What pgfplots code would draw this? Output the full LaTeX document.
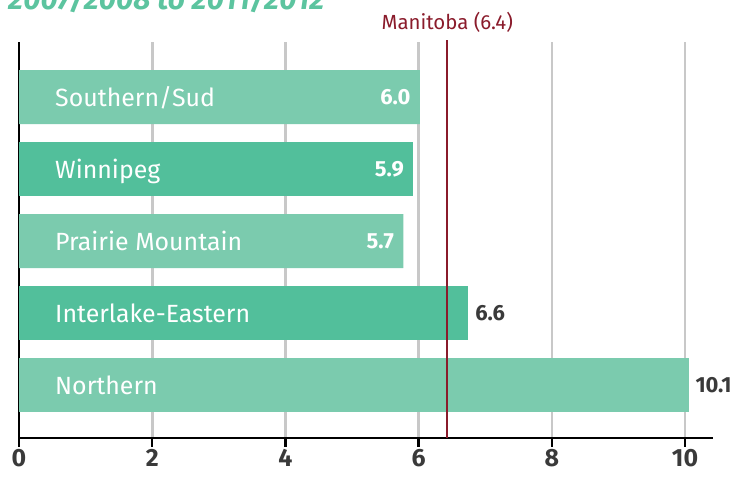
\documentclass[border=0pt]{standalone}
\usepackage{fontspec}
\setmainfont{Fira Sans}
\usepackage{pgfplots}
\pgfplotsset{compat=1.18}
\definecolor{barlight}{HTML}{7BCBAE}
\definecolor{bardark}{HTML}{52BF9B}
\definecolor{titlegreen}{HTML}{5CC49F}
\definecolor{mbred}{HTML}{8A1B2B}
\definecolor{gridgray}{HTML}{C8C8C8}
\definecolor{ticktext}{HTML}{3A3A3A}
\tikzset{catlab/.style={anchor=base west, text=white, inner sep=0,
  font=\fontsize{25}{25}\selectfont, xshift=36bp, yshift=-9bp}}
\begin{document}
\begin{tikzpicture}[x=1bp,y=1bp]
\useasboundingbox (0,0) rectangle (733,477);
\node[anchor=base west, inner sep=0, text=titlegreen,
  font=\fontsize{30}{30}\selectfont\bfseries\itshape] at (8,467) {2007/2008 to 2011/2012};
\begin{axis}[
  at={(19bp,39bp)}, anchor=south west,
  scale only axis, width=694bp, height=396bp,
  xmin=0, xmax=10.42, ymin=-0.736, ymax=4.764,
  xbar, bar shift=0pt, bar width=0.75,
  axis x line=bottom, axis y line=left,
  axis line style={-, black, line width=2.4bp},
  xtick={0,2,4,6,8,10}, ytick=\empty,
  xmajorgrids, major grid style={gridgray, line width=2.6bp},
  tick align=outside, major tick length=9bp,
  x tick style={black, line width=2.4bp},
  xticklabel style={font=\fontsize{25}{25}\selectfont\bfseries, text=ticktext, yshift=1bp},
  /pgf/number format/assume math mode=true,
  clip=false,
  nodes near coords, point meta=explicit symbolic,
  nodes near coords style={font=\fontsize{22}{22}\selectfont\bfseries},
]
% bars with the value inside (white)
\addplot[fill=barlight, draw=none,
  every node near coord/.append style={anchor=east, text=white, xshift=-6bp}]
  coordinates {(6.02,4) [6.0] (5.77,2) [5.7]};
\addplot[fill=bardark, draw=none,
  every node near coord/.append style={anchor=east, text=white, xshift=-6bp}]
  coordinates {(5.92,3) [5.9]};
% bars with the value outside
\addplot[fill=bardark, draw=none,
  every node near coord/.append style={anchor=west, text=ticktext, xshift=4bp}]
  coordinates {(6.74,1) [6.6]};
\addplot[fill=barlight, draw=none,
  every node near coord/.append style={anchor=west, text=ticktext, xshift=3bp}]
  coordinates {(10.06,0) [10.1]};
% Manitoba average
\draw[mbred, line width=2.4bp] (axis cs:6.43,4.79) -- (axis cs:6.43,-0.736) -- ++(0,-12bp);
\node[text=mbred, anchor=base, font=\fontsize{20.5}{20.5}\selectfont] at (axis cs:6.43,4.79) [yshift=11bp] {Manitoba (6.4)};
% category names
\node[catlab] at (axis cs:0,4) {Southern/Sud};
\node[catlab] at (axis cs:0,3) {Winnipeg};
\node[catlab] at (axis cs:0,2) {Prairie Mountain};
\node[catlab] at (axis cs:0,1) {Interlake-Eastern};
\node[catlab] at (axis cs:0,0) {Northern};
\end{axis}
\end{tikzpicture}
\end{document}
